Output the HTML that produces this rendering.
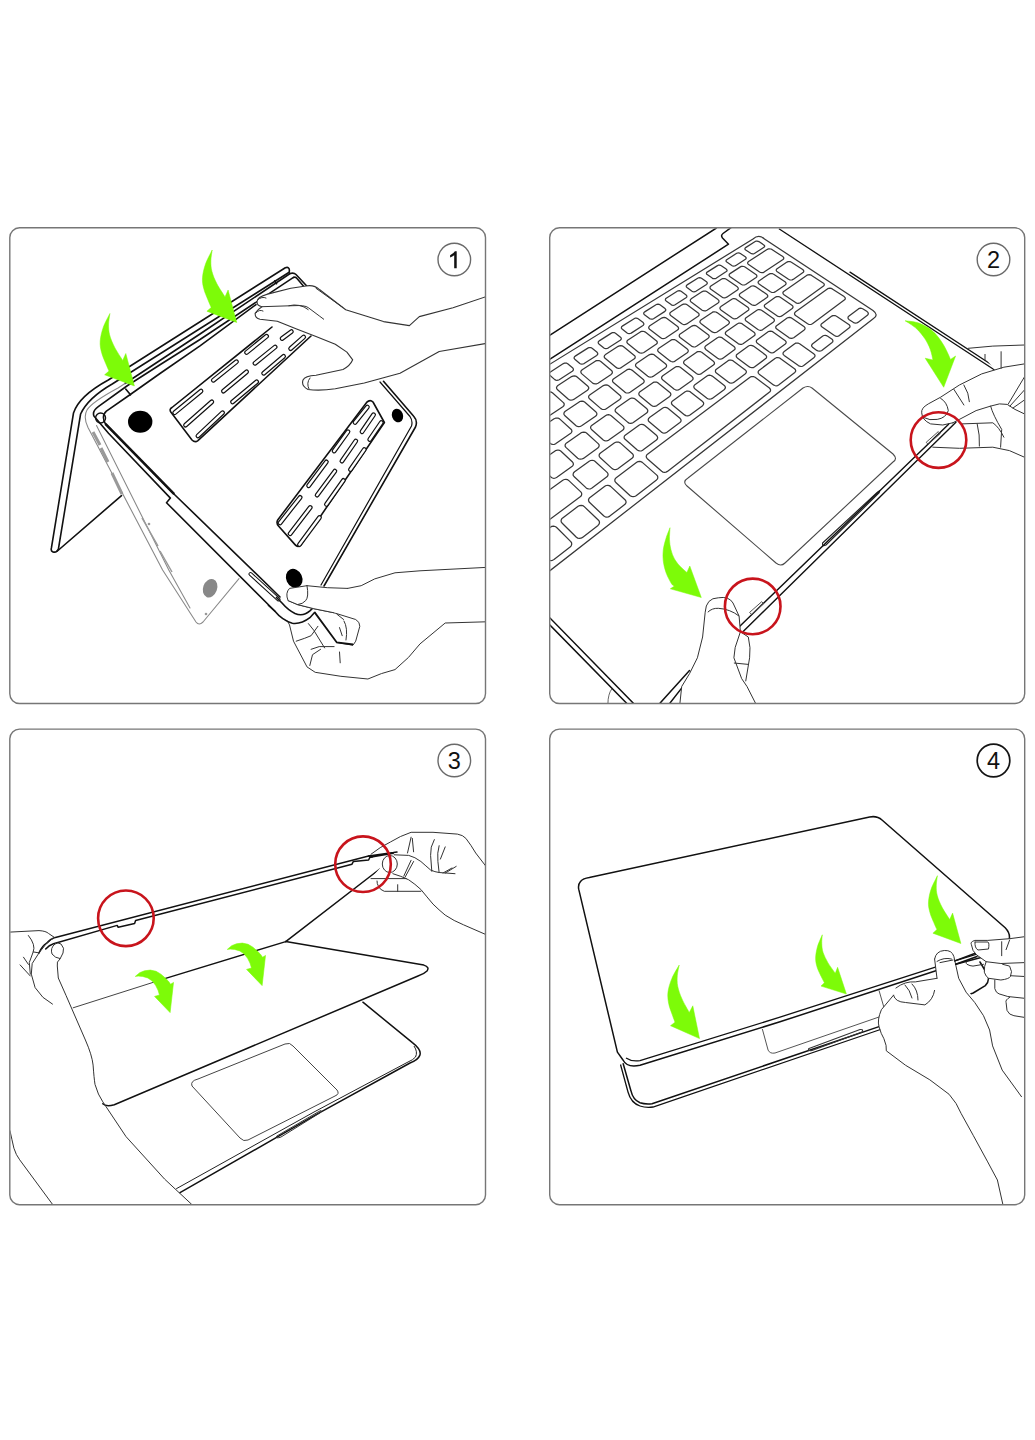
<!DOCTYPE html>
<html><head><meta charset="utf-8"><style>
html,body{margin:0;padding:0;background:#fff;}
body{width:1035px;height:1440px;overflow:hidden;font-family:"Liberation Sans",sans-serif;}
svg{display:block;}
</style></head><body>
<svg width="1035" height="1440" viewBox="0 0 1035 1440">
<defs><clipPath id="cp1"><rect x="10.3" y="228.3" width="474.7" height="474.7" rx="9.5"/></clipPath><clipPath id="cp2"><rect x="550.2" y="228.3" width="474" height="474.7" rx="9.5"/></clipPath><clipPath id="cp3"><rect x="10.3" y="729.6" width="474.7" height="474.6" rx="9.5"/></clipPath><clipPath id="cp4"><rect x="550.2" y="729.6" width="474" height="474.6" rx="9.5"/></clipPath></defs>
<rect width="1035" height="1440" fill="#fff"/>
<g clip-path="url(#cp1)">
<path d="M285.3,267.7 Q289.5,266.5 289.4,270.5 L289.2,272.3 L112.2,384 Q88,398 80.6,414 L58.5,548.5 Q57,553 53,552 Q50.5,551 51.4,548 L73.5,413 Q79,396 108.3,380 Z" fill="none" stroke="#111" stroke-width="1.6" stroke-linejoin="round" stroke-linecap="round"/>
<path d="M57.4,551 L121.5,495.6" fill="none" stroke="#111" stroke-width="1.6" stroke-linejoin="round" stroke-linecap="round"/>
<path d="M290.1,273.5 L200,334 L125,383.5" fill="none" stroke="#111" stroke-width="1.6" stroke-linejoin="round" stroke-linecap="round"/>
<path d="M125,383.5 L118,388 Q92,402 87,410 Q83,417 88,427.6 L162.6,570 L196,622 Q199,626 203,622 L239,578.6" fill="none" stroke="#8a8a8a" stroke-width="1.1" stroke-linejoin="round" stroke-linecap="round"/>
<path d="M96.5,425.5 L168.8,570 L190,608" fill="none" stroke="#8a8a8a" stroke-width="1.1" stroke-linejoin="round" stroke-linecap="round"/>
<path d="M93,432 L100,445 M101,448 L108,462 M112,473 L122,494" stroke="#999" stroke-width="3" fill="none"/>
<path d="M142,518 L158,546 M160,551 L172,572" stroke="#999" stroke-width="1.5" fill="none"/>
<path d="M290.1,273.5 Q294,272.5 296,274.5 L307,286.3" fill="none" stroke="#111" stroke-width="1.6" stroke-linejoin="round" stroke-linecap="round"/>
<path d="M293.5,277.4 Q295.5,276.5 297,278.5 L303.6,286.3" fill="none" stroke="#111" stroke-width="1.6" stroke-linejoin="round" stroke-linecap="round"/>
<path d="M293.5,277.4 L200,339.5 L160,364.8 L127.6,385.5 L98.6,406.4 Q92,411 93.9,416 L108.5,433.2 L170.4,498.1 L166.5,502.7 L274.7,611" fill="none" stroke="#111" stroke-width="1.6" stroke-linejoin="round" stroke-linecap="round"/>
<path d="M256,304.6 L200,345.8 L160,373.5 L129.6,395 L106.4,411.2 Q101,416 105.4,423.8 L174.2,494.2 L280,597" fill="none" stroke="#111" stroke-width="1.6" stroke-linejoin="round" stroke-linecap="round"/>
<line x1="250.5" y1="574.0" x2="278.5" y2="599.5" stroke="#111" stroke-width="4.00" stroke-linecap="round"/>
<line x1="250.5" y1="574.0" x2="278.5" y2="599.5" stroke="#fff" stroke-width="2.00" stroke-linecap="round"/>
<g/>
<path d="M105.4,423.8 L174.2,494.2" fill="none" stroke="#111" stroke-width="2.6"/>
<circle cx="100.6" cy="418" r="5" fill="none" stroke="#111" stroke-width="1.3"/>
<path d="M125.7,389 L130.5,394.8" fill="none" stroke="#111" stroke-width="1.6" stroke-linejoin="round" stroke-linecap="round"/>
<path d="M274.7,280.8 L276.6,283.7" fill="none" stroke="#111" stroke-width="1.6" stroke-linejoin="round" stroke-linecap="round"/>
<path d="M383.5,381.3 L413.7,416.3 Q418,421 415.5,427 L324,586" fill="none" stroke="#111" stroke-width="1.6" stroke-linejoin="round" stroke-linecap="round"/>
<path d="M380,382 L410,416.5 Q413,421 411.5,426 L321,585" fill="none" stroke="#111" stroke-width="1.2" stroke-linejoin="round" stroke-linecap="round"/>
<ellipse cx="140.2" cy="421.8" rx="12.2" ry="11" fill="#000"/>
<ellipse cx="397.5" cy="415.5" rx="5.5" ry="7" fill="#000" transform="rotate(-20 397.5 415.5)"/>
<ellipse cx="294.2" cy="578.3" rx="8" ry="9.8" fill="#000" transform="rotate(-25 294.2 578.3)"/>
<ellipse cx="210.1" cy="588.2" rx="7" ry="9.5" fill="#888" transform="rotate(20 210.1 588.2)"/>
<circle cx="149" cy="524" r="1.3" fill="#999"/><circle cx="206" cy="614" r="1.3" fill="#999"/>
<path d="M311,336 L197.9,440.6 Q195,443 192,440 L170.8,412 Q169,409 172,407.5 L272,327" fill="none" stroke="#111" stroke-width="1.6" stroke-linejoin="round" stroke-linecap="round"/>
<line x1="174.7" y1="412.7" x2="201.0" y2="391.1" stroke="#111" stroke-width="4.80" stroke-linecap="round"/>
<line x1="174.7" y1="412.7" x2="201.0" y2="391.1" stroke="#fff" stroke-width="2.40" stroke-linecap="round"/>
<line x1="185.5" y1="425.1" x2="211.8" y2="401.9" stroke="#111" stroke-width="4.80" stroke-linecap="round"/>
<line x1="185.5" y1="425.1" x2="211.8" y2="401.9" stroke="#fff" stroke-width="2.40" stroke-linecap="round"/>
<line x1="197.9" y1="435.9" x2="222.6" y2="412.7" stroke="#111" stroke-width="4.80" stroke-linecap="round"/>
<line x1="197.9" y1="435.9" x2="222.6" y2="412.7" stroke="#fff" stroke-width="2.40" stroke-linecap="round"/>
<line x1="213.3" y1="380.3" x2="236.5" y2="361.7" stroke="#111" stroke-width="4.80" stroke-linecap="round"/>
<line x1="213.3" y1="380.3" x2="236.5" y2="361.7" stroke="#fff" stroke-width="2.40" stroke-linecap="round"/>
<line x1="223.4" y1="391.1" x2="246.6" y2="371.8" stroke="#111" stroke-width="4.80" stroke-linecap="round"/>
<line x1="223.4" y1="391.1" x2="246.6" y2="371.8" stroke="#fff" stroke-width="2.40" stroke-linecap="round"/>
<line x1="232.6" y1="401.9" x2="256.6" y2="381.8" stroke="#111" stroke-width="4.80" stroke-linecap="round"/>
<line x1="232.6" y1="401.9" x2="256.6" y2="381.8" stroke="#fff" stroke-width="2.40" stroke-linecap="round"/>
<line x1="246.6" y1="352.5" x2="266.6" y2="336.2" stroke="#111" stroke-width="4.80" stroke-linecap="round"/>
<line x1="246.6" y1="352.5" x2="266.6" y2="336.2" stroke="#fff" stroke-width="2.40" stroke-linecap="round"/>
<line x1="255.0" y1="363.3" x2="275.1" y2="347.0" stroke="#111" stroke-width="4.80" stroke-linecap="round"/>
<line x1="255.0" y1="363.3" x2="275.1" y2="347.0" stroke="#fff" stroke-width="2.40" stroke-linecap="round"/>
<line x1="263.6" y1="373.3" x2="283.6" y2="356.3" stroke="#111" stroke-width="4.80" stroke-linecap="round"/>
<line x1="263.6" y1="373.3" x2="283.6" y2="356.3" stroke="#fff" stroke-width="2.40" stroke-linecap="round"/>
<line x1="282.1" y1="338.5" x2="291.4" y2="331.6" stroke="#111" stroke-width="4.80" stroke-linecap="round"/>
<line x1="282.1" y1="338.5" x2="291.4" y2="331.6" stroke="#fff" stroke-width="2.40" stroke-linecap="round"/>
<line x1="290.6" y1="348.6" x2="303.7" y2="337.0" stroke="#111" stroke-width="4.80" stroke-linecap="round"/>
<line x1="290.6" y1="348.6" x2="303.7" y2="337.0" stroke="#fff" stroke-width="2.40" stroke-linecap="round"/>
<path d="M366.6,402.4 Q370,399 373,402 L384.4,422.5 L300.9,545 Q298,548 295,544.6 L278.5,526 Q276,523 277.7,520 Z" fill="none" stroke="#111" stroke-width="1.6" stroke-linejoin="round" stroke-linecap="round"/>
<line x1="367.4" y1="407.0" x2="355.0" y2="422.5" stroke="#111" stroke-width="4.80" stroke-linecap="round"/>
<line x1="367.4" y1="407.0" x2="355.0" y2="422.5" stroke="#fff" stroke-width="2.40" stroke-linecap="round"/>
<line x1="373.6" y1="414.7" x2="362.0" y2="431.7" stroke="#111" stroke-width="4.80" stroke-linecap="round"/>
<line x1="373.6" y1="414.7" x2="362.0" y2="431.7" stroke="#fff" stroke-width="2.40" stroke-linecap="round"/>
<line x1="381.3" y1="422.5" x2="369.7" y2="439.5" stroke="#111" stroke-width="4.80" stroke-linecap="round"/>
<line x1="381.3" y1="422.5" x2="369.7" y2="439.5" stroke="#fff" stroke-width="2.40" stroke-linecap="round"/>
<line x1="348.0" y1="431.7" x2="334.1" y2="451.0" stroke="#111" stroke-width="4.80" stroke-linecap="round"/>
<line x1="348.0" y1="431.7" x2="334.1" y2="451.0" stroke="#fff" stroke-width="2.40" stroke-linecap="round"/>
<line x1="355.8" y1="441.0" x2="341.9" y2="461.1" stroke="#111" stroke-width="4.80" stroke-linecap="round"/>
<line x1="355.8" y1="441.0" x2="341.9" y2="461.1" stroke="#fff" stroke-width="2.40" stroke-linecap="round"/>
<line x1="364.3" y1="449.5" x2="350.4" y2="469.6" stroke="#111" stroke-width="4.80" stroke-linecap="round"/>
<line x1="364.3" y1="449.5" x2="350.4" y2="469.6" stroke="#fff" stroke-width="2.40" stroke-linecap="round"/>
<line x1="326.4" y1="461.9" x2="308.6" y2="485.8" stroke="#111" stroke-width="4.80" stroke-linecap="round"/>
<line x1="326.4" y1="461.9" x2="308.6" y2="485.8" stroke="#fff" stroke-width="2.40" stroke-linecap="round"/>
<line x1="334.9" y1="471.1" x2="317.1" y2="495.1" stroke="#111" stroke-width="4.80" stroke-linecap="round"/>
<line x1="334.9" y1="471.1" x2="317.1" y2="495.1" stroke="#fff" stroke-width="2.40" stroke-linecap="round"/>
<line x1="343.4" y1="480.4" x2="326.4" y2="504.4" stroke="#111" stroke-width="4.80" stroke-linecap="round"/>
<line x1="343.4" y1="480.4" x2="326.4" y2="504.4" stroke="#fff" stroke-width="2.40" stroke-linecap="round"/>
<line x1="300.1" y1="497.4" x2="280.0" y2="522.9" stroke="#111" stroke-width="4.80" stroke-linecap="round"/>
<line x1="300.1" y1="497.4" x2="280.0" y2="522.9" stroke="#fff" stroke-width="2.40" stroke-linecap="round"/>
<line x1="310.2" y1="507.5" x2="290.1" y2="533.7" stroke="#111" stroke-width="4.80" stroke-linecap="round"/>
<line x1="310.2" y1="507.5" x2="290.1" y2="533.7" stroke="#fff" stroke-width="2.40" stroke-linecap="round"/>
<line x1="319.5" y1="517.5" x2="299.4" y2="544.6" stroke="#111" stroke-width="4.80" stroke-linecap="round"/>
<line x1="319.5" y1="517.5" x2="299.4" y2="544.6" stroke="#fff" stroke-width="2.40" stroke-linecap="round"/>
<path d="M486,296.7 L453,307.7 L419.3,316.6 L409.4,325.6 L383.5,321.6 L345.7,309.7 L319.8,289.8 Q314,284.5 306,286 L290.8,288.3 L267.6,294.1 Q257,297 257,301.8 Q257,306 262,306.7 Q258,309 255.1,313.4 Q255,318.5 260,319.2 L277.3,321.2 L296.6,328.9 L316,336.6 L335.3,344.3 L346.9,352.1 L352.7,359.8 Q350,366 343,369.5 L316,375.3 Q305,376 303,380 Q301,386 308,389.5 Q320,391 335.3,388.8 L364.3,383 L400,373.3 L439.2,351.5 L486,343.5 Z" fill="#fff" stroke="#333" stroke-width="1.1" stroke-linejoin="round" stroke-linecap="round"/>
<path d="M262,306.7 L292.8,305.7 Q305,305 308.2,307.6 L319.8,316.3 L323.7,319.2" fill="none" stroke="#333" stroke-width="1.0" stroke-linejoin="round" stroke-linecap="round"/>
<path d="M288.9,305.7 Q300,303 308.2,309.6" fill="none" stroke="#333" stroke-width="1.0" stroke-linejoin="round" stroke-linecap="round"/>
<path d="M316,288.3 L343,307.6" fill="none" stroke="#333" stroke-width="1.0" stroke-linejoin="round" stroke-linecap="round"/>
<path d="M257.5,300 Q262,296 266,298 M256,313 Q259,309 263,311" fill="none" stroke="#333" stroke-width="1.0" stroke-linejoin="round" stroke-linecap="round"/>
<path d="M310,378 Q306,383 309,389" fill="none" stroke="#333" stroke-width="1.0" stroke-linejoin="round" stroke-linecap="round"/>
<path d="M486,567.4 L420,570.8 L395,572.8 L374.7,578.9 L361.2,585.7 L347.6,588.4 L327.3,587.7 L307,585.7 L289.5,588.4 Q285,593 288.1,600.6 L289.5,624.9 L293.5,641.2 L307,666.9 L315.2,672.3 L340.9,676.3 L367.9,679 L381.4,673.6 L395,669.6 L408.5,657.4 L420,643.9 L445.2,623 L486,621.8 Z" fill="#fff" stroke="none"/>
<path d="M486,567.4 L420,570.8 L395,572.8 L374.7,578.9 L361.2,585.7 L347.6,588.4 M287.5,621 L289.5,624.9 L293.5,641.2 L307,666.9 L315.2,672.3 L340.9,676.3 L367.9,679 L381.4,673.6 L395,669.6 L408.5,657.4 L420,643.9 L445.2,623 L486,621.8" fill="none" stroke="#333" stroke-width="1.0" stroke-linejoin="round" stroke-linecap="round"/>
<path d="M307,585.7 Q309,597 305.7,600.6 Q303,604 297.6,604.6 M288.1,600.6 L297.6,604.6 L313.8,608.7 L334.1,612.8 L355.7,619.5 Q360,622 359.8,626.3 L355.7,641.2 L353,645.2 L336.8,642.5" fill="none" stroke="#333" stroke-width="1.0" stroke-linejoin="round" stroke-linecap="round"/>
<path d="M276,597 L282,603 Q288,610 295,613.5 Q303,617 309.9,610.9 L314,607 M268,605 L274.7,611 Q282,620 292.3,623.3 Q301,624.5 309.9,617.7 L315,612" fill="none" stroke="#111" stroke-width="1.6"/>
<path d="M347.6,588.4 L327.3,587.7 L307,585.7 L289.5,588.4 Q285,593 288.1,600.6 L297.6,604.6 L313.8,608.7 L334.1,612.8 L345,610 Z" fill="#fff" stroke="none"/>
<path d="M347.6,588.4 L327.3,587.7 L307,585.7 L289.5,588.4 Q285,593 288.1,600.6 L297.6,604.6 L313.8,608.7 L334.1,612.8 M307,585.7 Q309,597 305.7,600.6 Q303,604 297.6,604.6" fill="none" stroke="#333" stroke-width="1.0" stroke-linejoin="round" stroke-linecap="round"/>
<path d="M314.5,612.1 L336.8,642.5 L353,644.5" fill="none" stroke="#111" stroke-width="1.8"/>
<path d="M296.2,641.2 Q306,638 311.1,635.7 L317.9,626.3 M308.4,623.6 L313.8,630.3 L324.6,647.9 M311.1,649.3 L319.2,646.6 L334.1,646.6 M309.8,665.5 L312.5,654.7 L320.6,649.3 M339.5,652 L340.2,662.8 M336.8,614.1 L343.6,619.5 M339.5,627.6 L342.2,635.7 M344,621 Q348,628 346,640" fill="none" stroke="#333" stroke-width="1.0" stroke-linejoin="round" stroke-linecap="round"/>
<path d="M109.9,313.5 C108.8,315.8 104.9,322.7 103.3,327.2 C101.7,331.8 100.5,336.8 100.2,341.0 C99.9,345.2 100.5,348.5 101.5,352.2 C102.4,356.0 104.5,360.4 105.7,363.5 C107.0,366.6 108.4,369.8 109.0,371.0 L104.6,374.8 L134.4,386.0 L125.8,353.5 L122.7,360.4 C121.4,358.2 116.8,351.5 114.6,347.2 C112.4,343.0 110.6,338.6 109.6,334.8 C108.6,330.9 108.6,327.6 108.6,324.1 C108.7,320.6 109.7,315.3 109.9,313.5Z" fill="#7dfb08" stroke="#7dfb08" stroke-width="0.5" stroke-linejoin="round"/>
<path d="M212.2,250.0 C211.1,252.3 207.2,259.2 205.6,263.8 C204.0,268.3 202.8,273.3 202.5,277.5 C202.2,281.7 202.8,285.0 203.8,288.8 C204.7,292.5 206.8,296.9 208.0,300.0 C209.2,303.1 210.7,306.2 211.2,307.5 L206.9,311.2 L236.7,322.5 L228.1,290.0 L225.0,296.9 C223.7,294.7 219.1,288.0 216.9,283.8 C214.7,279.5 212.9,275.1 211.9,271.2 C210.9,267.4 210.8,264.1 210.9,260.6 C210.9,257.1 212.0,251.8 212.2,250.0Z" fill="#7dfb08" stroke="#7dfb08" stroke-width="0.5" stroke-linejoin="round"/>
</g>
<g clip-path="url(#cp2)">
<path d="M745.6,247.6 L745.1,248.2 L744.9,248.8 L745.1,249.5 L745.7,250.0 L750.7,253.3 L751.6,253.7 L752.6,253.9 L753.6,253.8 L754.4,253.5 L764.0,247.3 L764.5,246.7 L764.7,246.1 L764.4,245.4 L763.8,244.9 L758.9,241.6 L758.0,241.3 L757.0,241.1 L756.0,241.2 L755.2,241.5Z M726.7,259.7 L726.2,260.2 L726.0,260.9 L726.2,261.6 L726.8,262.1 L731.8,265.5 L732.6,266.0 L733.7,266.1 L734.7,266.0 L735.5,265.7 L745.4,259.3 L746.0,258.7 L746.2,258.0 L745.9,257.4 L745.3,256.8 L740.4,253.5 L739.5,253.1 L738.5,252.9 L737.5,253.0 L736.7,253.3Z M707.2,272.1 L706.6,272.6 L706.4,273.3 L706.6,274.0 L707.2,274.6 L712.2,278.1 L713.1,278.6 L714.1,278.7 L715.2,278.6 L716.1,278.3 L726.3,271.6 L726.9,271.1 L727.1,270.4 L726.8,269.7 L726.2,269.1 L721.3,265.7 L720.4,265.3 L719.4,265.1 L718.3,265.2 L717.5,265.6Z M687.1,284.9 L686.5,285.5 L686.2,286.2 L686.4,286.9 L687.0,287.5 L692.0,291.2 L692.9,291.6 L694.0,291.8 L695.0,291.7 L695.9,291.3 L706.5,284.4 L707.1,283.8 L707.3,283.1 L707.1,282.4 L706.5,281.8 L701.5,278.3 L700.6,277.9 L699.6,277.7 L698.6,277.8 L697.7,278.2Z M666.2,298.2 L665.6,298.8 L665.4,299.5 L665.5,300.3 L666.1,300.9 L671.1,304.6 L672.0,305.1 L673.1,305.3 L674.2,305.1 L675.1,304.7 L686.0,297.7 L686.7,297.1 L686.9,296.3 L686.7,295.6 L686.1,295.0 L681.1,291.3 L680.2,290.9 L679.2,290.7 L678.1,290.8 L677.2,291.2Z M644.7,311.9 L644.0,312.5 L643.7,313.3 L643.9,314.1 L644.5,314.7 L649.5,318.6 L650.4,319.0 L651.5,319.2 L652.6,319.1 L653.5,318.7 L664.9,311.4 L665.5,310.7 L665.8,310.0 L665.6,309.2 L665.0,308.6 L660.0,304.8 L659.1,304.4 L658.0,304.2 L656.9,304.3 L656.0,304.7Z M622.3,326.1 L621.6,326.8 L621.4,327.6 L621.5,328.4 L622.1,329.0 L627.1,333.0 L628.0,333.5 L629.1,333.7 L630.2,333.5 L631.2,333.1 L643.0,325.5 L643.6,324.9 L643.9,324.1 L643.7,323.3 L643.2,322.6 L638.1,318.8 L637.2,318.3 L636.2,318.1 L635.0,318.2 L634.1,318.7Z M599.2,340.9 L598.5,341.5 L598.2,342.3 L598.3,343.2 L598.9,343.9 L603.9,348.0 L604.8,348.5 L605.9,348.7 L607.1,348.5 L608.1,348.1 L620.2,340.2 L621.0,339.5 L621.3,338.7 L621.1,337.9 L620.5,337.2 L615.5,333.2 L614.6,332.7 L613.5,332.6 L612.4,332.7 L611.4,333.1Z M575.2,356.1 L574.5,356.8 L574.1,357.7 L574.2,358.5 L574.8,359.2 L579.8,363.5 L580.7,364.0 L581.9,364.2 L583.0,364.0 L584.1,363.6 L596.7,355.4 L597.4,354.7 L597.8,353.9 L597.6,353.1 L597.1,352.3 L592.1,348.2 L591.2,347.7 L590.0,347.5 L588.9,347.7 L587.8,348.1Z M550.4,372.0 L549.6,372.7 L549.2,373.6 L549.3,374.4 L549.8,375.2 L554.8,379.6 L555.8,380.1 L556.9,380.3 L558.1,380.2 L559.2,379.7 L572.3,371.2 L573.1,370.5 L573.4,369.6 L573.3,368.8 L572.8,368.0 L567.7,363.7 L566.8,363.2 L565.7,363.0 L564.5,363.2 L563.4,363.6Z M524.5,388.4 L523.7,389.1 L523.3,390.1 L523.4,391.0 L523.9,391.8 L528.9,396.3 L529.8,396.8 L531.0,397.0 L532.2,396.9 L533.4,396.4 L547.0,387.6 L547.8,386.9 L548.2,386.0 L548.1,385.1 L547.5,384.3 L542.5,379.9 L541.6,379.3 L540.4,379.1 L539.2,379.3 L538.1,379.8Z M497.7,405.5 L496.9,406.3 L496.4,407.2 L496.4,408.1 L497.0,409.0 L501.9,413.6 L502.9,414.2 L504.1,414.4 L505.4,414.3 L506.5,413.8 L520.6,404.6 L521.5,403.8 L521.9,402.9 L521.8,402.0 L521.3,401.2 L516.3,396.6 L515.4,396.1 L514.2,395.8 L513.0,396.0 L511.8,396.5Z M469.8,423.2 L468.9,424.0 L468.4,425.0 L468.5,426.0 L469.0,426.8 L473.9,431.7 L474.9,432.3 L476.1,432.5 L477.4,432.3 L478.6,431.8 L493.3,422.3 L494.2,421.5 L494.6,420.5 L494.6,419.6 L494.1,418.7 L489.1,414.0 L488.2,413.4 L487.0,413.2 L485.7,413.4 L484.5,413.9Z M440.8,441.7 L439.9,442.5 L439.4,443.5 L439.4,444.6 L439.9,445.4 L444.8,450.5 L445.7,451.1 L447.0,451.3 L448.3,451.2 L449.5,450.6 L464.8,440.7 L465.8,439.9 L466.3,438.9 L466.2,437.9 L465.7,437.0 L460.8,432.1 L459.8,431.5 L458.6,431.3 L457.3,431.4 L456.1,432.0Z M748.5,261.6 L747.8,262.3 L747.6,263.1 L747.9,263.9 L748.6,264.6 L759.6,272.0 L760.6,272.5 L761.9,272.7 L763.1,272.6 L764.1,272.1 L783.0,259.5 L783.6,258.8 L783.8,258.0 L783.5,257.2 L782.8,256.6 L771.9,249.4 L770.8,249.0 L769.6,248.8 L768.4,248.9 L767.4,249.3Z M730.0,273.6 L729.3,274.3 L729.1,275.1 L729.4,276.0 L730.1,276.7 L741.1,284.3 L742.1,284.8 L743.4,285.0 L744.6,284.9 L745.7,284.5 L756.1,277.5 L756.7,276.8 L756.9,276.0 L756.6,275.2 L755.9,274.4 L745.0,267.0 L743.9,266.5 L742.7,266.3 L741.4,266.4 L740.4,266.9Z M710.9,286.0 L710.2,286.7 L710.0,287.6 L710.2,288.5 L710.9,289.2 L721.9,297.0 L723.0,297.6 L724.3,297.8 L725.6,297.6 L726.7,297.2 L737.4,290.0 L738.1,289.3 L738.3,288.4 L738.0,287.6 L737.3,286.8 L726.3,279.2 L725.2,278.7 L724.0,278.5 L722.7,278.6 L721.7,279.0Z M691.2,298.8 L690.5,299.6 L690.2,300.5 L690.5,301.3 L691.2,302.1 L702.2,310.2 L703.3,310.7 L704.6,310.9 L705.9,310.8 L707.0,310.3 L718.1,302.9 L718.8,302.2 L719.0,301.3 L718.8,300.4 L718.0,299.6 L707.0,291.8 L706.0,291.2 L704.7,291.0 L703.4,291.2 L702.3,291.6Z M670.9,312.1 L670.1,312.8 L669.8,313.7 L670.0,314.7 L670.7,315.5 L681.8,323.8 L682.9,324.3 L684.2,324.6 L685.5,324.4 L686.7,323.9 L698.1,316.2 L698.9,315.5 L699.1,314.6 L698.9,313.7 L698.2,312.9 L687.1,304.8 L686.1,304.2 L684.8,304.0 L683.5,304.1 L682.4,304.6Z M649.8,325.8 L649.0,326.6 L648.7,327.5 L648.9,328.4 L649.6,329.3 L660.7,337.8 L661.8,338.4 L663.1,338.6 L664.5,338.5 L665.6,338.0 L677.5,330.0 L678.3,329.2 L678.6,328.3 L678.3,327.4 L677.6,326.5 L666.6,318.2 L665.5,317.6 L664.2,317.4 L662.8,317.6 L661.7,318.1Z M628.0,339.9 L627.2,340.7 L626.9,341.7 L627.0,342.7 L627.7,343.5 L638.8,352.4 L639.9,353.0 L641.3,353.2 L642.7,353.0 L643.9,352.5 L656.1,344.3 L657.0,343.5 L657.3,342.5 L657.1,341.5 L656.3,340.7 L645.3,332.1 L644.2,331.5 L642.9,331.3 L641.5,331.4 L640.3,331.9Z M605.5,354.6 L604.6,355.4 L604.2,356.4 L604.4,357.5 L605.1,358.3 L616.2,367.4 L617.3,368.1 L618.7,368.3 L620.1,368.1 L621.3,367.6 L634.0,359.1 L634.9,358.2 L635.2,357.2 L635.0,356.2 L634.3,355.4 L623.3,346.5 L622.2,345.9 L620.8,345.6 L619.4,345.8 L618.2,346.3Z M582.2,369.8 L581.2,370.7 L580.8,371.7 L581.0,372.7 L581.6,373.6 L592.7,383.1 L593.8,383.7 L595.2,383.9 L596.7,383.8 L598.0,383.2 L611.1,374.4 L612.0,373.5 L612.4,372.5 L612.2,371.4 L611.5,370.5 L600.5,361.3 L599.4,360.7 L598.0,360.5 L596.6,360.7 L595.3,361.2Z M557.9,385.5 L557.0,386.4 L556.5,387.5 L556.7,388.6 L557.3,389.5 L568.4,399.3 L569.5,399.9 L570.9,400.2 L572.4,400.0 L573.7,399.4 L587.4,390.2 L588.3,389.3 L588.8,388.3 L588.6,387.2 L587.9,386.3 L576.8,376.8 L575.7,376.1 L574.3,375.9 L572.9,376.1 L571.6,376.6Z M532.8,401.9 L531.8,402.8 L531.3,403.9 L531.4,405.0 L532.1,406.0 L543.1,416.1 L544.3,416.7 L545.7,417.0 L547.2,416.8 L548.6,416.2 L562.8,406.7 L563.8,405.8 L564.2,404.7 L564.1,403.5 L563.4,402.6 L552.4,392.8 L551.2,392.1 L549.8,391.9 L548.3,392.1 L547.0,392.6Z M506.8,418.8 L505.7,419.8 L505.2,420.9 L505.3,422.1 L505.9,423.1 L516.9,433.5 L518.1,434.2 L519.5,434.5 L521.1,434.3 L522.5,433.6 L537.2,423.8 L538.2,422.8 L538.7,421.7 L538.6,420.5 L538.0,419.5 L526.9,409.4 L525.8,408.7 L524.4,408.4 L522.9,408.6 L521.5,409.2Z M479.7,436.4 L478.6,437.4 L478.1,438.6 L478.1,439.8 L478.7,440.9 L489.7,451.7 L490.8,452.4 L492.3,452.7 L493.9,452.4 L495.4,451.8 L510.7,441.5 L511.7,440.5 L512.3,439.3 L512.2,438.1 L511.5,437.1 L500.6,426.6 L499.4,425.9 L498.0,425.6 L496.4,425.8 L495.0,426.5Z M451.6,454.7 L450.4,455.7 L449.8,457.0 L449.8,458.2 L450.4,459.3 L461.3,470.5 L462.5,471.3 L464.0,471.5 L465.7,471.3 L467.2,470.6 L483.1,460.0 L484.2,458.9 L484.8,457.7 L484.7,456.4 L484.1,455.4 L473.2,444.5 L472.0,443.8 L470.5,443.5 L468.9,443.7 L467.5,444.4Z M777.1,268.7 L776.4,269.4 L776.2,270.2 L776.6,271.1 L777.3,271.8 L788.5,279.3 L789.6,279.8 L790.9,280.0 L792.1,279.8 L793.1,279.4 L803.0,272.6 L803.6,271.9 L803.8,271.1 L803.4,270.2 L802.7,269.5 L791.4,262.2 L790.4,261.7 L789.2,261.5 L788.0,261.7 L787.0,262.1Z M758.9,280.9 L758.3,281.6 L758.1,282.5 L758.4,283.3 L759.1,284.1 L770.4,291.8 L771.5,292.3 L772.8,292.5 L774.0,292.4 L775.0,291.9 L785.2,284.9 L785.9,284.2 L786.1,283.3 L785.7,282.5 L785.0,281.7 L773.7,274.2 L772.6,273.7 L771.4,273.5 L770.2,273.6 L769.2,274.1Z M740.2,293.5 L739.5,294.3 L739.3,295.1 L739.6,296.0 L740.3,296.8 L751.7,304.7 L752.8,305.2 L754.1,305.4 L755.3,305.3 L756.4,304.8 L766.9,297.5 L767.6,296.8 L767.8,296.0 L767.5,295.1 L766.7,294.3 L755.4,286.6 L754.3,286.1 L753.1,285.9 L751.8,286.0 L750.8,286.4Z M720.9,306.6 L720.2,307.3 L719.9,308.2 L720.2,309.1 L720.9,309.9 L732.3,318.0 L733.4,318.6 L734.7,318.8 L736.0,318.7 L737.1,318.2 L748.0,310.6 L748.7,309.9 L748.9,309.0 L748.6,308.1 L747.8,307.3 L736.5,299.4 L735.4,298.8 L734.1,298.6 L732.9,298.7 L731.8,299.2Z M700.9,320.0 L700.2,320.8 L699.9,321.7 L700.1,322.6 L700.9,323.4 L712.2,331.9 L713.4,332.4 L714.7,332.7 L716.0,332.5 L717.1,332.0 L728.4,324.2 L729.1,323.4 L729.4,322.5 L729.1,321.6 L728.3,320.8 L717.0,312.6 L715.9,312.0 L714.6,311.8 L713.3,311.9 L712.2,312.4Z M680.2,333.9 L679.5,334.7 L679.2,335.7 L679.4,336.6 L680.1,337.5 L691.5,346.1 L692.7,346.7 L694.0,347.0 L695.4,346.8 L696.5,346.3 L708.2,338.2 L708.9,337.4 L709.2,336.5 L708.9,335.5 L708.2,334.7 L696.8,326.2 L695.7,325.6 L694.4,325.4 L693.0,325.6 L691.9,326.1Z M658.9,348.3 L658.0,349.1 L657.7,350.1 L657.9,351.1 L658.7,352.0 L670.1,360.9 L671.2,361.5 L672.6,361.8 L674.0,361.6 L675.1,361.1 L687.2,352.7 L688.0,351.9 L688.3,350.9 L688.0,349.9 L687.3,349.1 L675.9,340.3 L674.8,339.7 L673.4,339.5 L672.1,339.7 L670.9,340.2Z M636.7,363.2 L635.9,364.1 L635.5,365.1 L635.7,366.1 L636.4,367.0 L647.8,376.3 L649.0,376.9 L650.4,377.1 L651.8,377.0 L653.0,376.4 L665.5,367.7 L666.3,366.9 L666.6,365.9 L666.4,364.8 L665.7,364.0 L654.3,354.9 L653.1,354.3 L651.8,354.1 L650.4,354.3 L649.2,354.8Z M613.8,378.7 L612.9,379.5 L612.5,380.6 L612.7,381.7 L613.4,382.6 L624.8,392.1 L625.9,392.8 L627.4,393.0 L628.8,392.9 L630.1,392.3 L643.0,383.3 L643.9,382.4 L644.2,381.4 L644.0,380.3 L643.3,379.4 L631.9,370.1 L630.7,369.5 L629.4,369.2 L627.9,369.4 L626.7,369.9Z M590.0,394.7 L589.0,395.6 L588.6,396.7 L588.8,397.8 L589.5,398.7 L600.9,408.6 L602.1,409.3 L603.5,409.5 L605.0,409.4 L606.3,408.7 L619.7,399.4 L620.6,398.5 L621.0,397.4 L620.8,396.3 L620.1,395.4 L608.7,385.8 L607.5,385.1 L606.1,384.9 L604.7,385.1 L603.4,385.6Z M565.3,411.3 L564.3,412.2 L563.9,413.4 L564.0,414.5 L564.7,415.5 L576.1,425.7 L577.3,426.4 L578.7,426.7 L580.2,426.5 L581.6,425.8 L595.5,416.2 L596.5,415.2 L596.9,414.1 L596.7,413.0 L596.0,412.0 L584.6,402.0 L583.4,401.4 L582.0,401.1 L580.5,401.3 L579.2,401.9Z M539.7,428.5 L538.6,429.5 L538.1,430.7 L538.2,431.9 L538.9,432.9 L550.3,443.5 L551.5,444.2 L553.0,444.5 L554.5,444.3 L555.9,443.6 L570.4,433.6 L571.4,432.6 L571.9,431.4 L571.7,430.2 L571.0,429.2 L559.6,418.9 L558.4,418.2 L557.0,418.0 L555.5,418.2 L554.1,418.8Z M513.0,446.5 L512.0,447.5 L511.4,448.7 L511.5,449.9 L512.2,451.0 L523.5,462.0 L524.7,462.7 L526.2,463.0 L527.8,462.8 L529.3,462.1 L544.3,451.6 L545.4,450.6 L545.9,449.4 L545.7,448.2 L545.0,447.1 L533.7,436.5 L532.5,435.8 L531.0,435.5 L529.5,435.7 L528.1,436.3Z M471.1,474.7 L470.0,475.8 L469.4,477.0 L469.4,478.3 L470.0,479.5 L481.3,491.1 L482.5,491.8 L484.1,492.1 L485.7,491.9 L487.2,491.2 L517.2,470.4 L518.3,469.4 L518.8,468.1 L518.7,466.8 L518.0,465.7 L506.7,454.7 L505.5,453.9 L504.0,453.7 L502.5,453.9 L501.0,454.6Z M783.7,291.5 L783.0,292.2 L782.9,293.1 L783.2,293.9 L784.0,294.7 L795.6,302.6 L796.7,303.1 L798.0,303.3 L799.2,303.2 L800.3,302.7 L823.5,286.0 L824.1,285.3 L824.3,284.5 L823.9,283.6 L823.1,282.9 L811.6,275.4 L810.5,274.9 L809.2,274.7 L808.0,274.8 L807.0,275.2Z M765.2,304.4 L764.5,305.1 L764.3,306.0 L764.6,306.9 L765.4,307.7 L777.0,315.8 L778.2,316.3 L779.5,316.6 L780.8,316.4 L781.8,315.9 L792.2,308.5 L792.9,307.7 L793.0,306.8 L792.7,305.9 L791.9,305.2 L780.3,297.3 L779.2,296.7 L777.9,296.5 L776.7,296.7 L775.6,297.1Z M746.1,317.7 L745.4,318.5 L745.2,319.4 L745.5,320.3 L746.2,321.1 L757.9,329.5 L759.0,330.0 L760.4,330.3 L761.7,330.1 L762.8,329.6 L773.5,321.9 L774.2,321.1 L774.4,320.2 L774.1,319.3 L773.3,318.5 L761.6,310.3 L760.5,309.8 L759.2,309.6 L757.9,309.7 L756.9,310.2Z M726.3,331.5 L725.6,332.3 L725.3,333.2 L725.6,334.2 L726.4,335.0 L738.1,343.6 L739.2,344.2 L740.6,344.4 L741.9,344.3 L743.0,343.8 L754.2,335.8 L754.9,335.0 L755.1,334.1 L754.8,333.1 L754.0,332.3 L742.3,323.9 L741.2,323.3 L739.9,323.1 L738.6,323.2 L737.5,323.7Z M705.9,345.8 L705.1,346.6 L704.8,347.6 L705.1,348.5 L705.8,349.4 L717.6,358.3 L718.7,358.9 L720.1,359.1 L721.5,359.0 L722.6,358.4 L734.1,350.1 L734.9,349.3 L735.1,348.4 L734.8,347.4 L734.0,346.5 L722.3,337.9 L721.2,337.3 L719.9,337.1 L718.5,337.2 L717.4,337.7Z M684.7,360.5 L683.9,361.4 L683.6,362.4 L683.8,363.4 L684.6,364.3 L696.4,373.5 L697.5,374.1 L698.9,374.3 L700.3,374.1 L701.5,373.6 L713.4,365.0 L714.2,364.2 L714.5,363.2 L714.2,362.2 L713.4,361.3 L701.7,352.3 L700.5,351.7 L699.2,351.5 L697.8,351.7 L696.6,352.2Z M662.8,375.8 L661.9,376.7 L661.6,377.7 L661.8,378.8 L662.6,379.7 L674.3,389.2 L675.5,389.8 L676.9,390.1 L678.4,389.9 L679.6,389.3 L691.9,380.4 L692.8,379.6 L693.1,378.5 L692.8,377.5 L692.0,376.6 L680.3,367.3 L679.1,366.7 L677.7,366.5 L676.3,366.6 L675.1,367.2Z M640.0,391.7 L639.2,392.6 L638.8,393.7 L639.0,394.8 L639.7,395.7 L651.5,405.5 L652.7,406.1 L654.2,406.4 L655.6,406.2 L656.9,405.6 L669.7,396.4 L670.5,395.5 L670.9,394.4 L670.6,393.3 L669.9,392.4 L658.1,382.9 L656.9,382.2 L655.5,382.0 L654.1,382.2 L652.9,382.7Z M616.5,408.1 L615.5,409.1 L615.1,410.2 L615.3,411.3 L616.1,412.3 L627.9,422.4 L629.1,423.1 L630.5,423.4 L632.0,423.2 L633.3,422.5 L646.6,413.0 L647.5,412.0 L647.8,410.9 L647.6,409.8 L646.9,408.8 L635.1,399.0 L633.9,398.3 L632.5,398.1 L631.0,398.2 L629.8,398.8Z M592.0,425.2 L591.0,426.1 L590.6,427.3 L590.8,428.5 L591.5,429.5 L603.3,440.0 L604.5,440.7 L606.0,441.0 L607.5,440.7 L608.8,440.1 L622.6,430.2 L623.6,429.2 L624.0,428.0 L623.8,426.9 L623.0,425.9 L611.2,415.7 L610.0,415.0 L608.6,414.7 L607.1,414.9 L605.8,415.5Z M566.6,442.9 L565.6,443.9 L565.1,445.1 L565.2,446.3 L565.9,447.4 L577.7,458.2 L578.9,459.0 L580.4,459.2 L582.0,459.0 L583.4,458.4 L597.8,448.0 L598.7,447.0 L599.2,445.8 L599.0,444.6 L598.2,443.6 L586.5,433.0 L585.3,432.3 L583.8,432.1 L582.3,432.3 L580.9,432.9Z M540.2,461.3 L539.1,462.4 L538.6,463.6 L538.7,464.9 L539.4,466.0 L551.2,477.2 L552.4,478.0 L553.9,478.3 L555.5,478.0 L556.9,477.3 L571.9,466.6 L572.9,465.6 L573.4,464.3 L573.2,463.1 L572.5,462.0 L560.7,451.0 L559.5,450.3 L558.0,450.0 L556.5,450.3 L555.1,450.9Z M491.3,495.4 L490.2,496.5 L489.6,497.8 L489.6,499.2 L490.3,500.3 L502.0,512.3 L503.2,513.1 L504.8,513.5 L506.5,513.2 L508.0,512.4 L545.0,485.9 L546.0,484.8 L546.6,483.5 L546.4,482.2 L545.7,481.1 L534.0,469.8 L532.8,469.0 L531.2,468.7 L529.6,469.0 L528.2,469.7Z M795.3,312.1 L794.7,312.9 L794.5,313.8 L794.8,314.7 L795.6,315.5 L807.6,323.7 L808.7,324.3 L810.1,324.5 L811.3,324.3 L812.4,323.8 L844.6,299.8 L845.2,299.1 L845.3,298.2 L844.9,297.4 L844.1,296.6 L832.3,288.9 L831.2,288.4 L829.9,288.1 L828.7,288.3 L827.7,288.7Z M776.6,325.7 L775.9,326.5 L775.7,327.4 L776.0,328.3 L776.8,329.1 L788.8,337.6 L790.0,338.2 L791.3,338.4 L792.6,338.2 L793.7,337.7 L804.2,329.9 L804.9,329.1 L805.1,328.2 L804.7,327.3 L803.9,326.4 L791.9,318.2 L790.8,317.6 L789.5,317.4 L788.2,317.6 L787.1,318.0Z M757.2,339.7 L756.5,340.5 L756.3,341.4 L756.6,342.4 L757.4,343.3 L769.4,352.0 L770.6,352.6 L772.0,352.8 L773.3,352.6 L774.4,352.1 L785.3,344.0 L786.0,343.2 L786.2,342.2 L785.8,341.3 L785.0,340.4 L773.0,331.9 L771.9,331.4 L770.5,331.1 L769.2,331.3 L768.1,331.8Z M737.2,354.2 L736.4,355.0 L736.2,356.0 L736.5,357.0 L737.3,357.9 L749.4,366.9 L750.5,367.5 L751.9,367.7 L753.3,367.6 L754.4,367.0 L765.7,358.6 L766.4,357.8 L766.6,356.8 L766.3,355.8 L765.5,354.9 L753.4,346.1 L752.3,345.6 L750.9,345.3 L749.6,345.5 L748.5,346.0Z M716.4,369.2 L715.6,370.0 L715.4,371.1 L715.6,372.1 L716.4,373.0 L728.6,382.3 L729.7,382.9 L731.2,383.2 L732.5,383.0 L733.7,382.4 L745.4,373.7 L746.1,372.9 L746.4,371.9 L746.1,370.8 L745.3,369.9 L733.2,360.9 L732.0,360.3 L730.6,360.0 L729.3,360.2 L728.1,360.7Z M694.9,384.7 L694.1,385.6 L693.8,386.7 L694.1,387.8 L694.8,388.7 L707.0,398.3 L708.2,399.0 L709.6,399.2 L711.0,399.0 L712.2,398.4 L724.4,389.4 L725.1,388.5 L725.4,387.5 L725.1,386.4 L724.3,385.5 L712.2,376.1 L711.0,375.5 L709.6,375.2 L708.2,375.4 L707.0,376.0Z M672.6,400.9 L671.8,401.8 L671.4,402.9 L671.7,404.0 L672.5,405.0 L684.6,414.9 L685.8,415.6 L687.3,415.8 L688.7,415.6 L690.0,415.0 L702.6,405.7 L703.4,404.7 L703.7,403.6 L703.4,402.5 L702.6,401.6 L690.4,391.9 L689.2,391.3 L687.8,391.0 L686.4,391.2 L685.2,391.8Z M649.5,417.6 L648.6,418.5 L648.2,419.7 L648.4,420.8 L649.2,421.8 L661.4,432.1 L662.6,432.8 L664.1,433.1 L665.6,432.9 L666.9,432.2 L679.9,422.5 L680.8,421.6 L681.1,420.4 L680.8,419.3 L680.0,418.3 L667.9,408.3 L666.7,407.6 L665.2,407.4 L663.8,407.5 L662.5,408.2Z M625.5,435.0 L624.5,435.9 L624.1,437.1 L624.3,438.3 L625.1,439.3 L637.3,450.0 L638.5,450.7 L640.0,451.0 L641.6,450.8 L642.9,450.1 L656.4,440.0 L657.3,439.0 L657.7,437.8 L657.4,436.7 L656.7,435.6 L644.5,425.3 L643.3,424.6 L641.8,424.3 L640.3,424.5 L639.0,425.2Z M600.5,453.0 L599.5,454.0 L599.1,455.2 L599.3,456.5 L600.0,457.5 L612.2,468.6 L613.5,469.3 L615.0,469.6 L616.6,469.4 L617.9,468.7 L632.0,458.2 L633.0,457.2 L633.4,455.9 L633.1,454.7 L632.4,453.7 L620.2,442.9 L618.9,442.2 L617.5,442.0 L615.9,442.2 L614.6,442.8Z M574.6,471.8 L573.6,472.8 L573.1,474.1 L573.2,475.4 L574.0,476.5 L586.2,487.9 L587.4,488.7 L589.0,489.0 L590.6,488.8 L592.0,488.0 L606.6,477.1 L607.6,476.0 L608.1,474.8 L607.9,473.5 L607.1,472.4 L594.9,461.3 L593.7,460.5 L592.2,460.3 L590.6,460.5 L589.2,461.2Z M512.3,516.8 L511.1,518.0 L510.6,519.3 L510.6,520.8 L511.4,522.0 L523.5,534.4 L524.7,535.2 L526.4,535.6 L528.1,535.3 L529.6,534.5 L580.2,496.8 L581.3,495.7 L581.7,494.4 L581.6,493.0 L580.8,491.9 L568.6,480.4 L567.4,479.6 L565.9,479.3 L564.3,479.5 L562.8,480.2Z M848.7,316.3 L848.1,317.0 L848.0,317.9 L848.4,318.9 L849.2,319.7 L853.2,322.3 L854.4,322.8 L855.7,323.1 L856.9,322.9 L857.9,322.4 L867.7,314.9 L868.2,314.1 L868.3,313.3 L867.9,312.4 L867.1,311.6 L863.1,309.0 L862.0,308.5 L860.7,308.2 L859.4,308.4 L858.4,308.9Z M821.7,323.7 L821.1,324.4 L820.9,325.3 L821.3,326.3 L822.1,327.1 L834.4,335.5 L835.6,336.1 L837.0,336.3 L838.2,336.1 L839.3,335.6 L849.3,327.8 L849.9,327.1 L850.0,326.2 L849.6,325.2 L848.8,324.4 L836.5,316.2 L835.4,315.7 L834.1,315.5 L832.8,315.6 L831.8,316.1Z M812.4,344.0 L811.8,344.8 L811.6,345.7 L812.0,346.7 L812.8,347.6 L816.8,350.4 L818.0,351.0 L819.4,351.2 L820.7,351.0 L821.8,350.5 L832.1,342.4 L832.8,341.7 L832.9,340.7 L832.5,339.7 L831.7,338.9 L827.7,336.2 L826.5,335.6 L825.2,335.4 L823.9,335.5 L822.8,336.0Z M783.9,351.8 L783.2,352.6 L783.0,353.6 L783.3,354.6 L784.2,355.4 L798.4,365.6 L799.6,366.2 L801.0,366.5 L802.3,366.3 L803.4,365.8 L814.1,357.4 L814.8,356.6 L815.0,355.6 L814.6,354.6 L813.7,353.8 L799.6,343.8 L798.4,343.2 L797.1,343.0 L795.7,343.1 L794.7,343.7Z M759.0,370.4 L758.3,371.3 L758.1,372.3 L758.4,373.3 L759.2,374.2 L773.5,384.9 L774.7,385.5 L776.1,385.8 L777.5,385.6 L778.6,385.0 L794.8,372.4 L795.5,371.6 L795.7,370.6 L795.3,369.5 L794.5,368.7 L780.3,358.4 L779.1,357.8 L777.7,357.5 L776.4,357.7 L775.3,358.2Z M647.5,454.2 L646.6,455.2 L646.2,456.4 L646.5,457.6 L647.3,458.7 L661.7,471.3 L663.0,472.1 L664.5,472.3 L666.0,472.1 L667.4,471.4 L769.6,392.0 L770.4,391.1 L770.6,390.0 L770.2,389.0 L769.4,388.0 L755.1,377.3 L753.9,376.7 L752.5,376.5 L751.2,376.6 L750.0,377.2Z M616.2,477.7 L615.2,478.8 L614.8,480.0 L615.0,481.3 L615.8,482.5 L630.2,495.7 L631.5,496.4 L633.1,496.7 L634.7,496.5 L636.1,495.8 L656.5,479.9 L657.5,478.8 L657.8,477.5 L657.6,476.2 L656.8,475.1 L642.3,462.4 L641.1,461.7 L639.6,461.4 L638.0,461.6 L636.7,462.3Z M590.0,497.4 L589.0,498.5 L588.5,499.8 L588.7,501.2 L589.4,502.3 L603.9,516.0 L605.2,516.8 L606.8,517.1 L608.4,516.9 L609.8,516.1 L624.7,504.6 L625.6,503.5 L626.1,502.2 L625.8,500.8 L625.0,499.7 L610.6,486.4 L609.3,485.6 L607.8,485.3 L606.2,485.5 L604.8,486.3Z M562.7,517.9 L561.6,519.0 L561.1,520.4 L561.2,521.8 L562.0,523.0 L576.4,537.3 L577.7,538.1 L579.3,538.4 L581.0,538.2 L582.5,537.4 L598.0,525.4 L599.0,524.2 L599.5,522.8 L599.3,521.4 L598.5,520.2 L584.0,506.4 L582.8,505.6 L581.2,505.3 L579.6,505.6 L578.1,506.3Z M534.2,539.2 L533.1,540.5 L532.5,541.9 L532.6,543.4 L533.4,544.6 L547.8,559.4 L549.1,560.3 L550.7,560.6 L552.5,560.3 L554.0,559.5 L570.1,547.0 L571.2,545.8 L571.7,544.3 L571.6,542.9 L570.8,541.6 L556.4,527.3 L555.1,526.5 L553.5,526.1 L551.8,526.4 L550.3,527.2Z" fill="none" stroke="#383838" stroke-width="1.25" stroke-linejoin="round"/>
<path d="M540,370.3 L753,239 Q758.7,233.8 764.5,239 L873,310.5 Q879,315 873.5,318.5 L540,578.4" fill="none" stroke="#383838" stroke-width="1.25"/>
<path d="M540,341.5 L716.4,228" fill="none" stroke="#111" stroke-width="1.5" stroke-linejoin="round" stroke-linecap="round"/>
<path d="M540,365.6 L728.5,244.2 L722.5,238 Q720.5,235.5 723,233.5 L731.9,227" fill="none" stroke="#111" stroke-width="1.5" stroke-linejoin="round" stroke-linecap="round"/>
<path d="M779.3,229 L995,370.2 M850,272.1 L997,368.3" fill="none" stroke="#111" stroke-width="1.3" stroke-linecap="round"/>
<path d="M822.6,543 L877.4,492.2 Q881,489 879,493 L826,545 Q822,547 822.6,543 Z" fill="none" stroke="#222" stroke-width="1.1"/>
<path d="M540,607.8 L642.9,713 M540,615 L636.2,713" fill="none" stroke="#111" stroke-width="1.5" stroke-linejoin="round" stroke-linecap="round"/>
<path d="M652,712 L689.5,670.6 M663,712 L682.6,686.9" fill="none" stroke="#111" stroke-width="1.5" stroke-linejoin="round" stroke-linecap="round"/>
<path d="M607.9,704 Q608,694 611.8,688.9" fill="none" stroke="#555" stroke-width="0.9"/>
<path d="M803,388 Q808,385 812,388 L893,454 Q898,459 893,462 L785,563 Q780.9,567 776,563 L687,486 Q682,481.7 688,478 Z" fill="none" stroke="#4a4a4a" stroke-width="1.1" stroke-linejoin="round"/>
<path d="M968.3,348.3 L992.8,346.1 L1026,345 L1026,470 L1009.4,450.6 L992.8,447.2 L959.4,448.3 L932.8,447.2 L952.8,422.8 L942.8,425 L930.6,423.9 L923.9,419.4 L921.7,412.8 L928.3,403.9 L940.6,397.2 L959.4,385 L981.7,373.9 L995,370 L985,358 Z" fill="#fff" stroke="none"/>
<path d="M968.3,348.3 L992.8,346.1 L1024.4,345 M1024.4,363.9 L1003.9,367.2 L981.7,373.9 L959.4,385 L940.6,397.2 L928.3,403.9 Q921,408 921.7,412.8 Q922,420 930.6,423.9 L942.8,425 L952.8,422.8 M922.8,417.2 Q930,421 937.2,419.4 Q946,418 948.3,410.6 Q947,402 940.6,398.3 M953.9,389.4 L963.9,405 M963.9,385 Q969,393 969.4,401.7 M952.8,422.8 L959.4,419.4 L976.1,410.6 L990.6,406.1 L999.4,403.9 L1007.2,404.4 L1015,409.4 L1024.4,413.9 M1008.3,403.9 L1024.4,377 M1010,406 L1024.4,390 M1013,408 L1024.4,400 M961.7,423.9 L992.8,422.8 Q999,427 1003.9,437.2 M977.2,423.9 Q980,435 979.4,446.1 M990.6,406.1 Q993,415 1001.7,429.4 L1000.6,447.2 M932.8,447.2 L959.4,448.3 L992.8,447.2 L1009.4,450.6 L1024.4,457.2 M985,354.4 L985,360.6 M1001.1,351.7 L1001.1,368.3" fill="none" stroke="#333" stroke-width="1.0" stroke-linejoin="round" stroke-linecap="round"/>
<path d="M948.6,424.2 L738.5,627.5 M955.9,422.2 L743.4,631.3" fill="none" stroke="#111" stroke-width="1.4" stroke-linecap="round"/>
<path d="M705.2,612.2 Q706,598 718.3,597.8 Q729,596 733,603 L739.1,616.1 L740.4,631.8 L735.2,647.4 L733.9,657.8 L741.7,678.7 L747,686.5 L760,712 L679,712 L681.7,686.5 L689.6,673.5 L697.4,657.8 L702.6,637 Z" fill="#fff" stroke="#333" stroke-width="1.0" stroke-linejoin="round"/>
<path d="M707.8,612.2 Q712,608 718.3,608.3 Q730,609 739.1,616.1 M748.3,637 Q751,648 749.6,657.8 L745.7,681.3 M733.9,663 L748.3,664.4 M740.4,631.8 L748.3,637" fill="none" stroke="#333" stroke-width="1.0"/>
<path d="M926.2,442.3 L938.3,431.6 L940.2,433.6 L928.1,444.3 Z M749.6,612.4 L761.7,601.7 L763.6,603.7 L751.5,614.4 Z" fill="none" stroke="#555" stroke-width="1"/>
</g>
<circle cx="938.5" cy="440.1" r="27.8" fill="none" stroke="#c8141c" stroke-width="2.6"/>
<circle cx="752.7" cy="606.4" r="27.8" fill="none" stroke="#c8141c" stroke-width="2.6"/>
<path d="M905.1,320.8 C907.1,321.1 913.3,321.4 917.3,322.6 C921.2,323.8 925.5,326.0 928.8,328.1 C932.1,330.2 934.4,332.6 936.9,335.5 C939.4,338.4 941.8,342.0 943.7,345.2 C945.6,348.4 947.3,352.2 948.4,354.6 C949.5,357.0 950.1,358.6 950.5,359.4 L955.6,356.0 L943.7,387.3 L925.2,358.2 L932.9,360.0 C932.5,358.2 931.6,352.8 930.2,349.2 C928.9,345.6 926.9,341.9 924.8,338.6 C922.6,335.3 919.8,331.9 917.3,329.4 C914.8,326.9 911.9,325.2 909.9,323.8 C907.9,322.4 905.9,321.3 905.1,320.8Z" fill="#7dfb08" stroke="#7dfb08" stroke-width="0.5" stroke-linejoin="round"/>
<path d="M670.0,527.7 C669.4,529.4 667.3,534.1 666.2,537.7 C665.1,541.3 663.8,545.6 663.3,549.5 C662.8,553.4 662.8,557.4 663.3,561.3 C663.8,565.2 664.8,569.4 666.2,573.1 C667.6,576.8 670.1,581.5 671.5,583.7 C672.9,585.9 674.0,585.7 674.5,586.1 L670.3,588.8 L701.3,597.5 L689.8,566.0 L686.9,572.5 C685.8,571.5 682.5,568.9 680.4,566.6 C678.3,564.4 676.1,561.9 674.5,559.0 C672.9,556.1 671.7,552.8 670.9,549.5 C670.1,546.2 669.6,543.1 669.5,539.5 C669.4,535.9 669.9,529.7 670.0,527.7Z" fill="#7dfb08" stroke="#7dfb08" stroke-width="0.5" stroke-linejoin="round"/>
<g clip-path="url(#cp3)">
<path d="M362.9,1002.2 L412.4,1042.6 Q422,1050 419.8,1055.4 Q418,1060 410,1063 L317,1114.2 L180,1192.7" fill="none" stroke="#111" stroke-width="1.5" stroke-linejoin="round" stroke-linecap="round"/>
<path d="M414,1046 Q418,1052 415.5,1057 Q413,1060 408,1062 L314,1112 L176.2,1188.8" fill="none" stroke="#222" stroke-width="1.0"/>
<path d="M276.6,1136.2 L318,1112 Q323,1109 320.6,1112.5 L281,1137 Q276,1139 276.6,1136.2 Z" fill="none" stroke="#333" stroke-width="1.0"/>
<path d="M198,1079 L285,1044 Q290,1042 293,1046 L337,1090 Q340,1094 335,1096 L248,1140 Q243.6,1142 240,1138 L192,1086 Q190,1081 198,1079 Z" fill="none" stroke="#444" stroke-width="1.0" stroke-linejoin="round"/>
<path d="M285.7,941.6 L423.8,965.1 Q430,967 427,971 Q424,974 418,976 L114.3,1104.7 Q106,1107 102.8,1103.8" fill="#fff" fill="none" stroke="#111" stroke-width="1.5" stroke-linejoin="round" stroke-linecap="round"/>
<path d="M72.8,1007.9 L165.6,978.4" fill="none" stroke="#444" stroke-width="1.0"/>
<path d="M165.6,978.4 L285.7,941.6" fill="none" stroke="#111" stroke-width="1.5" stroke-linejoin="round" stroke-linecap="round"/>
<path d="M382.4,867 L285.7,941.6" fill="none" stroke="#111" stroke-width="1.5" stroke-linejoin="round" stroke-linecap="round"/>
<path d="M39,952.9 Q42,946 46.7,943.2 Q50,939 55.4,937.4 L368.6,855.9 L393.4,852.6" fill="none" stroke="#111" stroke-width="1.5" stroke-linejoin="round" stroke-linecap="round"/>
<path d="M45.7,949 Q49,945 53.5,943.7 L117.2,925.4 L118.2,927.3 L134.6,923.5 L135.6,920.6 L352,864.2 L353.4,861.4 L368.6,860 L369.9,857.3 L393.4,853.2" fill="none" stroke="#111" stroke-width="1.5" stroke-linejoin="round" stroke-linecap="round"/>
<path d="M10,932.1 L39,930.6 Q46,931 48.6,933.5 L54.4,937.4 L46.7,943.2 L39,952.9 L32.2,963.5 L31.3,974.1 L35.1,987.6 L42.9,997.3 L52.5,1004.1" fill="none" stroke="#333" stroke-width="1.0" stroke-linejoin="round" stroke-linecap="round"/>
<path d="M28.4,935.5 Q36,945 33.2,951.9 L29.3,962.5 L30.3,974.1 M23.5,957.2 L28.4,964.4 M20.1,964.9 L30.3,976 M33.2,951.9 L39,952.9" fill="none" stroke="#333" stroke-width="1.0" stroke-linejoin="round" stroke-linecap="round"/>
<path d="M55,944 Q58,942 61,944 Q65,948 63,953 L60.2,958.6 Q55,958 52,954 Q50,948 55,944 Z" fill="#fff" stroke="#333" stroke-width="1.0"/>
<path d="M60.2,958.6 Q56,962 57.3,966 L58.3,978 L66,995.4 L76.7,1020 L85.4,1040 Q92,1055 93.1,1065.1 Q94,1078 95,1084.4 Q98,1095 102.8,1101.8 L126,1136.6 L164.6,1179.1 L191.6,1204.3" fill="none" stroke="#333" stroke-width="1.0" stroke-linejoin="round" stroke-linecap="round"/>
<path d="M10,1130.8 Q12,1140 13.9,1148.2 Q16,1155 19.7,1159.8 L52.5,1204.3" fill="none" stroke="#333" stroke-width="1.0" stroke-linejoin="round" stroke-linecap="round"/>
<path d="M371,854.2 L390.4,842 L411.1,832.3 L433,832.3 L457.4,834.1 L465.9,838.4 L475.7,853 L486,866.4 L486,934.6 L463.5,924.8 L445.2,915.1 L433,904.1 L420.9,891.3 L384.3,891.3 L378.3,885.9 L377,881 L371,878.6 L380,868 Z" fill="#fff" stroke="none"/>
<path d="M371,854.2 Q380,847 390.4,842 Q400,836 411.1,832.3 L433,832.3 L457.4,834.1 Q463,835 465.9,838.4 Q471,845 475.7,853 L486,866.4 M392.9,873.7 Q401,876 408.7,879.8 Q415,884 420.9,889.5 Q427,897 433,904.1 Q439,910 445.2,915.1 Q454,921 463.5,924.8 L486,934.6" fill="none" stroke="#333" stroke-width="1.0" stroke-linejoin="round" stroke-linecap="round"/>
<path d="M394.1,854.8 L408.7,855.4 Q415,857 420.9,861.5 Q426,866 430.6,870 Q435,872 439.1,872.5 L455,873.7 M371,878.6 L406.3,878.6 M377,881 Q377,884 378.3,885.9 Q380,890 384.3,891.3 L420.9,891.3 M397.7,884.7 L397.7,891.3 M411.1,837.2 L407.5,853 M412.3,838.4 L413.6,851.8 M434.3,839.6 Q430,847 430.6,855.4 L431.8,871.3 M439.1,845.7 Q437,853 437.9,861.5 L439.1,872.5 M445.2,846.9 L440.4,859.1 M456.2,866.4 L445.2,873.1 M452,868 L443,873 M413.6,861.5 L405,877.3 M411.1,860.3 L403.8,876.1" fill="none" stroke="#333" stroke-width="1.0" stroke-linejoin="round" stroke-linecap="round"/>
<ellipse cx="389.8" cy="864" rx="7.5" ry="8.5" fill="#fff" stroke="#333" stroke-width="1"/>
<path d="M368.6,855.9 L393.4,852.6 L397,852 M369.9,857.3 L393.4,853.2" fill="none" stroke="#111" stroke-width="1.5" stroke-linejoin="round" stroke-linecap="round"/>
</g>
<circle cx="125.9" cy="918.3" r="27.8" fill="none" stroke="#c8141c" stroke-width="2.6"/>
<circle cx="363" cy="864.2" r="27.8" fill="none" stroke="#c8141c" stroke-width="2.6"/>
<path d="M227.3,949.4 L231.7,945.7 L236.5,943.8 L242.3,943.1 L248.1,944.3 L252.9,947.2 L256.8,950.6 L260.2,953.9 L262.6,957.3 L265.5,955.4 L262.1,985.6 L246.6,969.4 L251.5,968.0 L250.0,963.1 L247.6,958.3 L244.2,953.9 L239.9,951.0 L234.6,949.4 L230.2,949.1Z" fill="#7dfb08" stroke="#7dfb08" stroke-width="0.6" stroke-linejoin="round"/>
<path d="M135.3,976.4 L139.7,972.7 L144.5,970.8 L150.3,970.1 L156.1,971.3 L160.9,974.2 L164.8,977.6 L168.2,980.9 L170.6,984.3 L173.5,982.4 L170.1,1012.6 L154.6,996.4 L159.5,995.0 L158.0,990.1 L155.6,985.3 L152.2,980.9 L147.9,978.0 L142.6,976.4 L138.2,976.1Z" fill="#7dfb08" stroke="#7dfb08" stroke-width="0.6" stroke-linejoin="round"/>
<g clip-path="url(#cp4)">
<path d="M623.2,1063.7 L630.9,1090.7 Q633,1100 640,1102.8 Q645,1104.5 652,1103.8 L879,1026.6 L973.2,993 L985.3,985.6 Q990,981 987.7,975 L980,962" fill="none" stroke="#111" stroke-width="1.5" stroke-linejoin="round" stroke-linecap="round"/>
<path d="M620.5,1064.5 L628,1092 Q631,1103 640,1106 Q646,1108 653,1107 L879,1030 L968,999" fill="none" stroke="#111" stroke-width="1.3"/>
<path d="M809,1048.4 L860,1029.5 Q864,1029 862,1032 L812,1050.5 Q807,1051 809,1048.4 Z" fill="none" stroke="#333" stroke-width="1.1"/>
<path d="M762.3,1028.9 L768.1,1050.1 Q770,1054 775,1053 L879,1017 M879,990.4 L883.9,1007.3" fill="none" stroke="#555" stroke-width="1.0"/>
<path d="M589.3,877.6 L869.6,817 Q877,815.5 882,820 L1005.2,927.8 Q1012,935 1008,943 Q1004,950 996,953.5 L955.7,964.3 L780,1021.8 L640,1065.2 Q627,1068 623,1060 L617.4,1052.1 L578.7,889.2 Q577,879.5 589.3,877.6 Z" fill="#fff" fill="none" stroke="#111" stroke-width="1.5" stroke-linejoin="round" stroke-linecap="round"/>
<path d="M626,1058 Q632,1062 640,1060.6 L780,1017.2 L954.8,960.9 L997,948 Q1004,946 1006,943" fill="none" stroke="#111" stroke-width="1.3"/>
<path d="M934.6,959 Q936,951 944.3,950.5 Q952,950 953.9,956.6 L958.7,978.3 L973.2,997.6 L987.7,1026.6 L992.6,1045.9 L1002.2,1070.1 L1021.5,1096.7 L1026,1105 L1026,1205 L995,1205 L987.7,1161.9 L973.2,1135.3 L961.2,1113.6 L949.1,1094.3 L929.8,1079.8 L905.6,1065.3 L886.3,1050.8 L883.9,1038.7 L879,1026.6 L881.4,1009.7 L893.5,995.2 L895.9,988 L915.3,981.9 L937,978.3 Z" fill="#fff" stroke="none"/>
<path d="M934.6,959 Q936,951 944.3,950.5 Q952,950 953.9,956.6 L958.7,978.3 L966.1,992.2 L974.8,1002.6 L983.5,1015.7 L989.6,1030 L992.6,1045.9 L1002.2,1070.1 L1021.5,1096.7 M934.6,959 L937,978.3 M937,961.4 Q944,957 951.5,959 M895.9,988 Q905,981 915.3,981.9 L937,978.3 M893.5,995.2 Q895,1002 905.6,1002.5 L924.9,1004.9 Q933,1000 934.6,990.4 M893.5,995.2 L881.4,1009.7 Q877,1020 879,1026.6 Q881,1034 883.9,1038.7 Q887,1046 886.3,1050.8 L905.6,1065.3 L929.8,1079.8 L949.1,1094.3 Q957,1103 961.2,1113.6 L973.2,1135.3 L987.7,1161.9 L997.4,1180 L1003,1205 M905,985 Q910,990 912,998 M912,984 Q918,990 918,1000" fill="none" stroke="#333" stroke-width="1.0" stroke-linejoin="round" stroke-linecap="round"/>
<path d="M954.8,960.9 L976,953 M955.7,964.3 L977,956.5" fill="none" stroke="#111" stroke-width="1.5" stroke-linejoin="round" stroke-linecap="round"/>
<path d="M1026,936.5 L1009.6,938.7 L987.8,940.4 L974.8,940.4 Q970,942 971.3,944.3 L973,950.4 L976.5,954.8 L986.1,961.7 Q985,966 984.3,972.2 Q986,977 988.7,978.3 L994.8,980 L994.8,988.7 L999.1,993.9 L1007.8,996.5 L1006.1,1002.6 L1007,1010.4 L1013.9,1015.7 L1026,1017.4 Z" fill="#fff" stroke="none"/>
<path d="M1026,936.5 L1009.6,938.7 L987.8,940.4 L974.8,940.4 Q970,942 971.3,944.3 L973,950.4 L976.5,954.8 L986.1,961.7 L1000.9,963.5 L1024.5,962.6 M975,942 L988,942 Q989.5,943 988.5,949 L978,950 Q974.5,948 975,942 M1001.7,941.7 L1001.7,955.7 M1009.6,940 L1006.1,949.6 M986.1,961.7 Q984,966 984.3,972.2 Q986,977 988.7,978.3 L1000.9,980 Q1009,979 1010.4,976.5 Q1013,972 1009.6,966.1 L1002.6,964.3 M1010.4,975.7 L1024.5,976.5 M994.8,980 L994.8,988.7 Q996,993 999.1,993.9 L1007.8,996.5 L1024.5,998.3 M1009.6,997.4 Q1005,1000 1006.1,1002.6 L1007,1010.4 Q1009,1015 1013.9,1015.7 L1024.5,1017.4 M940,962.6 L953,960 M966.1,961.7 Q966,964 967,964.3 Q970,966 973,966.1 L983.5,964.3" fill="none" stroke="#333" stroke-width="1.0" stroke-linejoin="round" stroke-linecap="round"/>
</g>
<path d="M679.2,965.1 C678.0,967.3 673.7,973.9 671.9,978.4 C670.0,982.9 668.5,987.8 668.0,991.9 C667.5,996.0 667.9,999.4 668.6,1003.2 C669.3,1007.0 671.1,1011.4 672.2,1014.6 C673.3,1017.8 674.6,1021.0 675.0,1022.2 L670.5,1025.7 L699.5,1038.6 L692.8,1005.8 L689.3,1012.5 C688.1,1010.2 683.9,1003.3 682.0,998.9 C680.0,994.6 678.5,990.1 677.7,986.2 C676.9,982.3 677.1,979.1 677.3,975.6 C677.6,972.1 678.9,966.8 679.2,965.1Z" fill="#7dfb08" stroke="#7dfb08" stroke-width="0.5" stroke-linejoin="round"/>
<path d="M822.3,934.8 C821.5,936.8 818.6,942.7 817.5,946.6 C816.4,950.5 815.7,954.7 815.6,958.2 C815.6,961.7 816.3,964.5 817.2,967.5 C818.2,970.6 820.1,974.2 821.3,976.7 C822.5,979.2 823.9,981.8 824.4,982.8 L821.0,986.1 L846.4,994.0 L837.6,967.3 L835.3,973.3 C834.1,971.5 830.0,966.2 827.9,962.7 C825.9,959.2 824.2,955.7 823.1,952.5 C822.1,949.4 821.9,946.7 821.8,943.7 C821.6,940.7 822.2,936.3 822.3,934.8Z" fill="#7dfb08" stroke="#7dfb08" stroke-width="0.5" stroke-linejoin="round"/>
<path d="M937.4,875.7 C936.4,877.9 932.8,884.3 931.3,888.6 C929.8,892.9 928.8,897.6 928.5,901.6 C928.2,905.5 928.9,908.6 929.8,912.1 C930.6,915.6 932.6,919.7 933.8,922.6 C935.0,925.5 936.4,928.5 936.9,929.6 L932.9,933.2 L960.9,943.5 L952.6,913.1 L949.7,919.6 C948.5,917.5 944.1,911.3 942.1,907.3 C940.0,903.3 938.2,899.2 937.3,895.6 C936.3,892.0 936.2,889.0 936.3,885.6 C936.3,882.3 937.2,877.4 937.4,875.7Z" fill="#7dfb08" stroke="#7dfb08" stroke-width="0.5" stroke-linejoin="round"/>
<rect x="9.8" y="227.8" width="475.7" height="475.7" rx="9.7" ry="9.7" fill="none" stroke="#767676" stroke-width="1.4"/>
<rect x="549.7" y="227.8" width="475" height="475.7" rx="9.7" ry="9.7" fill="none" stroke="#767676" stroke-width="1.4"/>
<rect x="9.8" y="729.1" width="475.7" height="475.6" rx="9.7" ry="9.7" fill="none" stroke="#767676" stroke-width="1.4"/>
<rect x="549.7" y="729.1" width="475" height="475.6" rx="9.7" ry="9.7" fill="none" stroke="#767676" stroke-width="1.4"/>
<circle cx="454.3" cy="259.5" r="16.3" fill="none" stroke="#6a6a6a" stroke-width="1.4"/>
<path transform="translate(0.0,0.0)" d="M454.2,268.2 V255.2 Q452.4,256.7 450.1,257.5 V255.2 Q453.6,253.4 454.9,251.2 H456.7 V268.2 Z" fill="#111"/>
<circle cx="993.5" cy="259.5" r="16.3" fill="none" stroke="#6a6a6a" stroke-width="1.4"/>
<text x="993.5" y="268.1" font-family="Liberation Sans" font-size="23.5" text-anchor="middle" fill="#111">2</text>
<circle cx="454.3" cy="760.5" r="16.3" fill="none" stroke="#6a6a6a" stroke-width="1.4"/>
<text x="454.3" y="769.1" font-family="Liberation Sans" font-size="23.5" text-anchor="middle" fill="#111">3</text>
<circle cx="993.5" cy="760.5" r="16.3" fill="none" stroke="#141414" stroke-width="1.7"/>
<text x="993.5" y="769.1" font-family="Liberation Sans" font-size="23.5" text-anchor="middle" fill="#111">4</text>
</svg>
</body></html>
